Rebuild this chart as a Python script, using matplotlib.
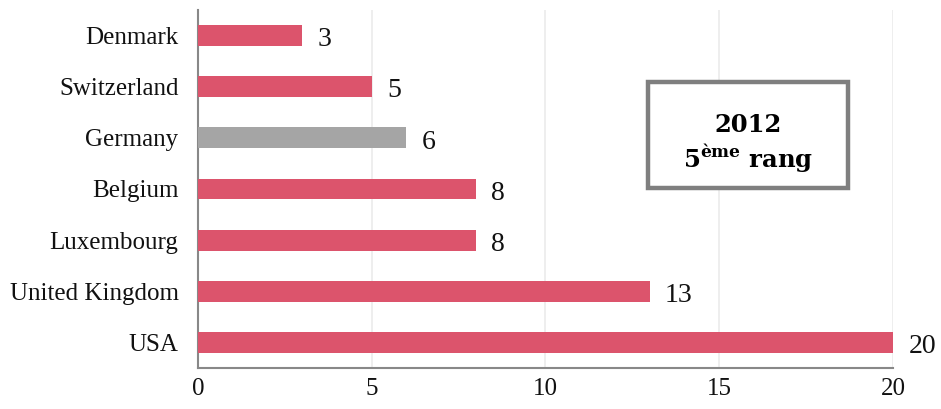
import matplotlib.pyplot as plt
from matplotlib.patches import Rectangle

# data
countries = ['Denmark', 'Switzerland', 'Germany', 'Belgium', 'Luxembourg', 'United Kingdom', 'USA']
values = [3, 5, 6, 8, 8, 13, 20]
highlight = 'Germany'
xticks = [0, 5, 10, 15, 20]

red = '#DC546C'
grey = '#A5A5A5'

plt.rcParams['font.family'] = ['Liberation Serif', 'DejaVu Serif']
plt.rcParams['mathtext.fontset'] = 'custom'
plt.rcParams['mathtext.rm'] = 'DejaVu Serif'
plt.rcParams['mathtext.bf'] = 'DejaVu Serif:bold'

fig = plt.figure(figsize=(9.41, 4.09), dpi=100)
ax = fig.add_axes([0.2104, 0.1002, 0.7386, 0.8754])

colors = [grey if c == highlight else red for c in countries]
bars = ax.barh(countries, values, height=0.41, color=colors, zorder=3)
ax.set_ylim(6.5, -0.5)
ax.set_xlim(0, 20)
ax.set_xticks(xticks)

# value labels
for b, v in zip(bars, values):
    ax.annotate(str(v), (b.get_width(), b.get_y() + b.get_height() / 2),
                xytext=(11, -3), textcoords='offset points',
                va='center', ha='left', fontsize=20, color='#111111',
                annotation_clip=False)

ax.grid(axis='x', color='#EBEBEB', linewidth=1.2, zorder=0)
ax.set_axisbelow(True)
for s in ['top', 'right']:
    ax.spines[s].set_visible(False)
for s in ['left', 'bottom']:
    ax.spines[s].set_color('#888888')
    ax.spines[s].set_linewidth(1.5)
ax.tick_params(axis='both', length=0, labelsize=18, colors='#111111')
ax.tick_params(axis='y', pad=14)
ax.tick_params(axis='x', pad=7)

# annotation box
box = Rectangle((0.689, 0.541), 0.212, 0.259, transform=fig.transFigure,
                facecolor='white', edgecolor='#7F7F7F', linewidth=3.2, zorder=5)
fig.patches.append(box)
fig.text(0.795, 0.695, '2012', ha='center', va='center', fontsize=17.5,
         fontweight='bold', family='DejaVu Serif', zorder=6)
fig.text(0.795, 0.612, r'5$^{\mathbf{ème}}$ rang', ha='center', va='center',
         fontsize=17.5, fontweight='bold', family='DejaVu Serif', zorder=6)

fig.savefig('out.png', dpi=100)
